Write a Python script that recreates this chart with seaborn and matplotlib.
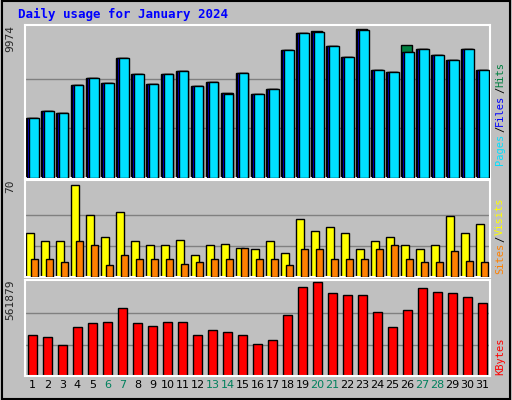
import matplotlib
matplotlib.use("Agg")
import matplotlib.pyplot as plt
import seaborn as sns
import numpy as np

days = list(range(1, 32))
weekend = [6, 7, 13, 14, 20, 21, 27, 28]
pages = [4043, 4515, 4380, 6267, 6739, 6402, 8087, 7009, 6335, 7009, 7211, 6200, 6469, 5661, 7076, 5661,
         5998, 8626, 9704, 9772, 8896, 8154, 9906, 7278, 7143, 8491, 8693, 8289, 7952, 8693, 7278]
files = [4043, 4515, 4380, 6267, 6739, 6402, 8087, 7009, 6335, 7009, 7211, 6200, 6469, 5700, 7076, 5661,
         5998, 8626, 9704, 9772, 8896, 8154, 9906, 7278, 7143, 8491, 8693, 8289, 7952, 8693, 7278]
hits = [4043, 4515, 4380, 6267, 6739, 6402, 8087, 7009, 6335, 7009, 7211, 6200, 6469, 5730, 7076, 5661,
        5998, 8626, 9704, 9840, 8896, 8154, 9974, 7278, 7143, 8963, 8693, 8289, 7952, 8693, 7278]
visits = [33, 27, 27, 70, 47, 30, 49, 27, 24, 24, 28, 17, 24, 25, 22, 21, 27, 18, 44, 35, 38, 33, 21, 27, 30, 24, 21, 24, 46, 33, 40]
sites = [14, 14, 11, 27, 24, 9, 17, 14, 14, 14, 10, 11, 14, 14, 22, 14, 14, 9, 21, 21, 14, 14, 14, 21, 24, 14, 11, 11, 20, 12, 11]
kbytes = [247000, 235000, 185000, 290000, 315000, 320000, 404000, 315000, 299000, 320000, 320000, 247000, 272000, 260000, 247000, 191000, 216000, 364000, 531000, 561879, 494000, 482000, 482000, 383000, 290000, 395000, 525000, 500000, 494000, 470000, 438000]

sns.set_style("white")
BG = "#C0C0C0"
fig = plt.figure(figsize=(5.12, 4.0), dpi=100, facecolor=BG)
W, H = 512, 400
def ax_at(x0, y0, x1, y1):
    a = fig.add_axes([x0 / W, 1 - y1 / H, (x1 - x0) / W, (y1 - y0) / H])
    a.set_facecolor(BG)
    for s in a.spines.values():
        s.set_color("white"); s.set_linewidth(1.5)
    a.set_xlim(0.5, 31.5)
    a.set_xticks([]); a.set_yticks([])
    return a

x = np.array(days)
a1 = ax_at(25, 25, 490, 178)
a1.set_ylim(0, 9974 * 1.03)
for g in (1/3, 2/3):
    a1.axhline(9974 * g, color="#808080", lw=1, zorder=0)
a1.bar(x - 0.42, hits, width=0.72, color="#008040", edgecolor="black", lw=1, align="edge", zorder=2)
a1.bar(x - 0.34, files, width=0.72, color="#0000FF", edgecolor="black", lw=1, align="edge", zorder=3)
a1.bar(x - 0.22, pages, width=0.62, color="#00E0FF", edgecolor="black", lw=1, align="edge", zorder=4)
a1.text(-0.02, 1.0, "9974", rotation=90, transform=a1.transAxes, ha="right", va="top", fontsize=8, family="DejaVu Sans Mono")

a2 = ax_at(25, 180, 490, 277)
a2.set_ylim(0, 70 * 1.05)
for g in (1/3, 2/3):
    a2.axhline(70 * g, color="#808080", lw=1, zorder=0)
a2.bar(x - 0.42, visits, width=0.55, color="#FFFF00", edgecolor="black", lw=1, align="edge", zorder=2)
a2.bar(x - 0.12, sites, width=0.5, color="#FF8000", edgecolor="black", lw=1, align="edge", zorder=3)
a2.text(-0.02, 1.0, "70", rotation=90, transform=a2.transAxes, ha="right", va="top", fontsize=8, family="DejaVu Sans Mono")

a3 = ax_at(25, 280, 490, 376)
a3.set_ylim(0, 561879 * 1.02)
for g in (1/3, 2/3):
    a3.axhline(561879 * g, color="#808080", lw=1, zorder=0)
a3.bar(x, kbytes, width=0.65, color="#FF0000", edgecolor="black", lw=1, zorder=2)
a3.text(-0.02, 1.0, "561879", rotation=90, transform=a3.transAxes, ha="right", va="top", fontsize=8, family="DejaVu Sans Mono")
for d in days:
    a3.text(d, -0.04, str(d), transform=a3.get_xaxis_transform(), ha="center", va="top", fontsize=8,
            color="#00805C" if d in weekend else "black")

fig.text(18 / W, 1 - 14 / H, "Daily usage for January 2024", color="#0000FF", fontsize=9, fontweight="bold",
         family="DejaVu Sans Mono", va="center")

def vlabel(y_bottom, parts):
    y = 1 - y_bottom / H
    for txt, col in parts:
        fig.text(500 / W, y, txt, rotation=90, color=col, fontsize=7.5, family="DejaVu Sans Mono",
                 ha="center", va="bottom")
        y += len(txt) * 6.5 / H
vlabel(165, [("Pages", "#00E0FF"), ("/", "black"), ("Files", "#0000FF"), ("/", "black"), ("Hits", "#008040")])
vlabel(274, [("Sites", "#FF8000"), ("/", "black"), ("Visits", "#FFFF00")])
vlabel(375, [("KBytes", "#FF0000")])

fig.add_artist(plt.Rectangle((0.003, 0.003), 0.994, 0.994, transform=fig.transFigure, fill=False, edgecolor="black", lw=1.5))
fig.savefig("out.png", dpi=100, facecolor=BG)
